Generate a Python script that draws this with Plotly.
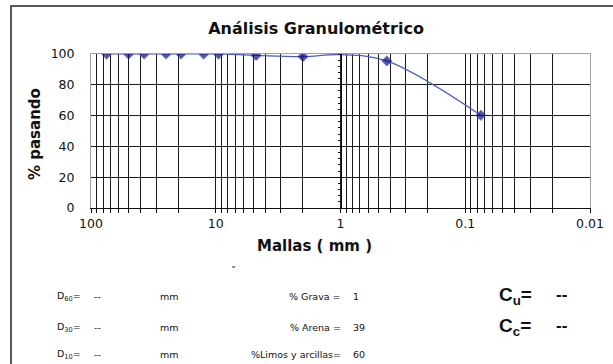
import plotly.graph_objects as go

# ---- data ----
sizes_mm = [75, 50, 37.5, 25, 19, 12.5, 9.5, 4.75, 2.0, 1.0, 0.425, 0.075]
passing = [100, 100, 100, 100, 100, 100, 100, 99.1, 98.3, 99.6, 95.5, 60.2]
marker_sizes = [8, 8, 8, 8, 8, 8, 8, 8, 8, 0, 8, 8]

decades = [100, 10, 1, 0.1, 0.01]
decade_labels = ["100", "10", "1", "0.1", "0.01"]
y_ticks = [0, 20, 40, 60, 80, 100]

summary_left = [("D<sub>60</sub>=", "--", "mm"), ("D<sub>30</sub>=", "--", "mm"), ("D<sub>10</sub>=", "--", "mm")]
summary_mid = [("% Grava = ", "1"), ("% Arena = ", "39"), ("%Limos y arcillas= ", "60")]
summary_right = [("C<sub>u</sub>=", "--"), ("C<sub>c</sub>=", "--")]

# all log grid positions
grid_vals = []
for e in [1, 0, -1, -2]:
    for k in range(9, 0, -1):
        grid_vals.append(round(k * 10 ** e, 6))
grid_vals = [100] + grid_vals
grid_text = [decade_labels[decades.index(v)] if v in decades else "" for v in grid_vals]

FONT = "Liberation Sans, Arial, sans-serif"
WIDE = "DejaVu Sans, Verdana, sans-serif"
W, H = 613, 364
L, R, T, B = 91, 23, 54, 156
PW, PH = W - L - R, H - T - B


def px(x):
    return (x - L) / PW


def py(y):
    return (H - B - y) / PH


fig = go.Figure()
fig.add_trace(go.Scatter(
    x=sizes_mm, y=passing, mode="lines+markers",
    line=dict(color="#4a5cc0", width=1.2, shape="spline"),
    marker=dict(symbol="diamond", size=marker_sizes, color="#0b0b7a"),
    showlegend=False, hoverinfo="skip",
))
# helper traces so overlay axes are drawn
fig.add_trace(go.Scatter(x=[None], y=[None], xaxis="x2", yaxis="y", showlegend=False))
fig.add_trace(go.Scatter(x=[None], y=[None], xaxis="x", yaxis="y2", showlegend=False))

fig.update_layout(
    width=W, height=H,
    margin=dict(l=L, r=R, t=T, b=B, autoexpand=False),
    paper_bgcolor="white", plot_bgcolor="white",
    font=dict(family=FONT, color="#111"),
    xaxis=dict(
        type="log", range=[2, -2], domain=[0, 1],
        tickmode="array", tickvals=grid_vals, ticktext=grid_text,
        ticks="outside", ticklen=4, tickcolor="#111", tickwidth=1,
        showline=True, linecolor="#111", linewidth=1,
        showgrid=True, gridcolor="#1a1a1a", gridwidth=1,
        zeroline=False, tickfont=dict(size=12.5, color="#111", family=WIDE),
    ),
    xaxis2=dict(
        type="log", range=[2, -2], overlaying="x", side="top", anchor="y",
        showline=True, linecolor="#a0a0a0", linewidth=1,
        showticklabels=False, ticks="", showgrid=False, zeroline=False,
    ),
    yaxis=dict(
        range=[0, 100], tickmode="array", tickvals=y_ticks,
        ticks="", ticklabelstandoff=13,
        showline=True, mirror=True, linecolor="#a0a0a0", linewidth=1,
        showgrid=True, gridcolor="#1a1a1a", gridwidth=1,
        zeroline=False, tickfont=dict(size=12.5, color="#111", family=WIDE),
    ),
    yaxis2=dict(
        range=[0, 100], overlaying="y", anchor="free", position=0.5, side="left",
        showline=True, linecolor="#111", linewidth=1,
        ticks="outside", ticklen=3, tickcolor="#111", dtick=4, tick0=0,
        showticklabels=False, showgrid=False, zeroline=False,
    ),
    title=dict(
        text="<b>Análisis Granulométrico</b>", x=px(316), xref="paper",
        y=1 - 28 / H, yref="container", xanchor="center", yanchor="middle",
        font=dict(size=16, color="#111", family=WIDE),
    ),
)


def note(text, x, y, size=10, xanchor="left", family=WIDE, **kw):
    return dict(text=text, x=px(x), y=py(y), xref="paper", yref="paper",
                xanchor=xanchor, yanchor="middle", showarrow=False,
                font=dict(size=size, color="#111", family=family), **kw)


ann = []
ann.append(note("<b>% pasando</b>", 35, 134, size=15, xanchor="center", textangle=-90))
ann.append(note("<b>Mallas ( mm )</b>", 314, 246, size=15, xanchor="center"))
ann.append(note("ˇ", 233, 271, size=10, xanchor="center"))

rows_y = [296, 327, 354]
for (lab, val, unit), yy in zip(summary_left, rows_y):
    ann.append(note(lab, 55, yy, size=9.5))
    ann.append(note(val, 92, yy, size=9.5))
    ann.append(note(unit, 158, yy, size=9.5))
for (lab, val), yy in zip(summary_mid, rows_y):
    ann.append(note(lab, 346, yy, size=9.5, xanchor="right"))
    ann.append(note(val, 351, yy, size=9.5))
for (lab, val), yy in zip(summary_right, [296, 327]):
    ann.append(note("<b>" + lab + "</b>", 497, yy, size=19, family=FONT))
    ann.append(note("<b>" + val + "</b>", 554, yy - 2, size=17, family=FONT))
fig.update_layout(annotations=ann)

# outer chart frame
fig.add_shape(type="rect", xref="paper", yref="paper",
              x0=px(11), x1=px(640), y0=py(400), y1=py(6),
              line=dict(color="#222", width=1.5), layer="below")

fig.write_html("out.html", config={"displayModeBar": False},
               post_script="document.body.style.margin='0';")
